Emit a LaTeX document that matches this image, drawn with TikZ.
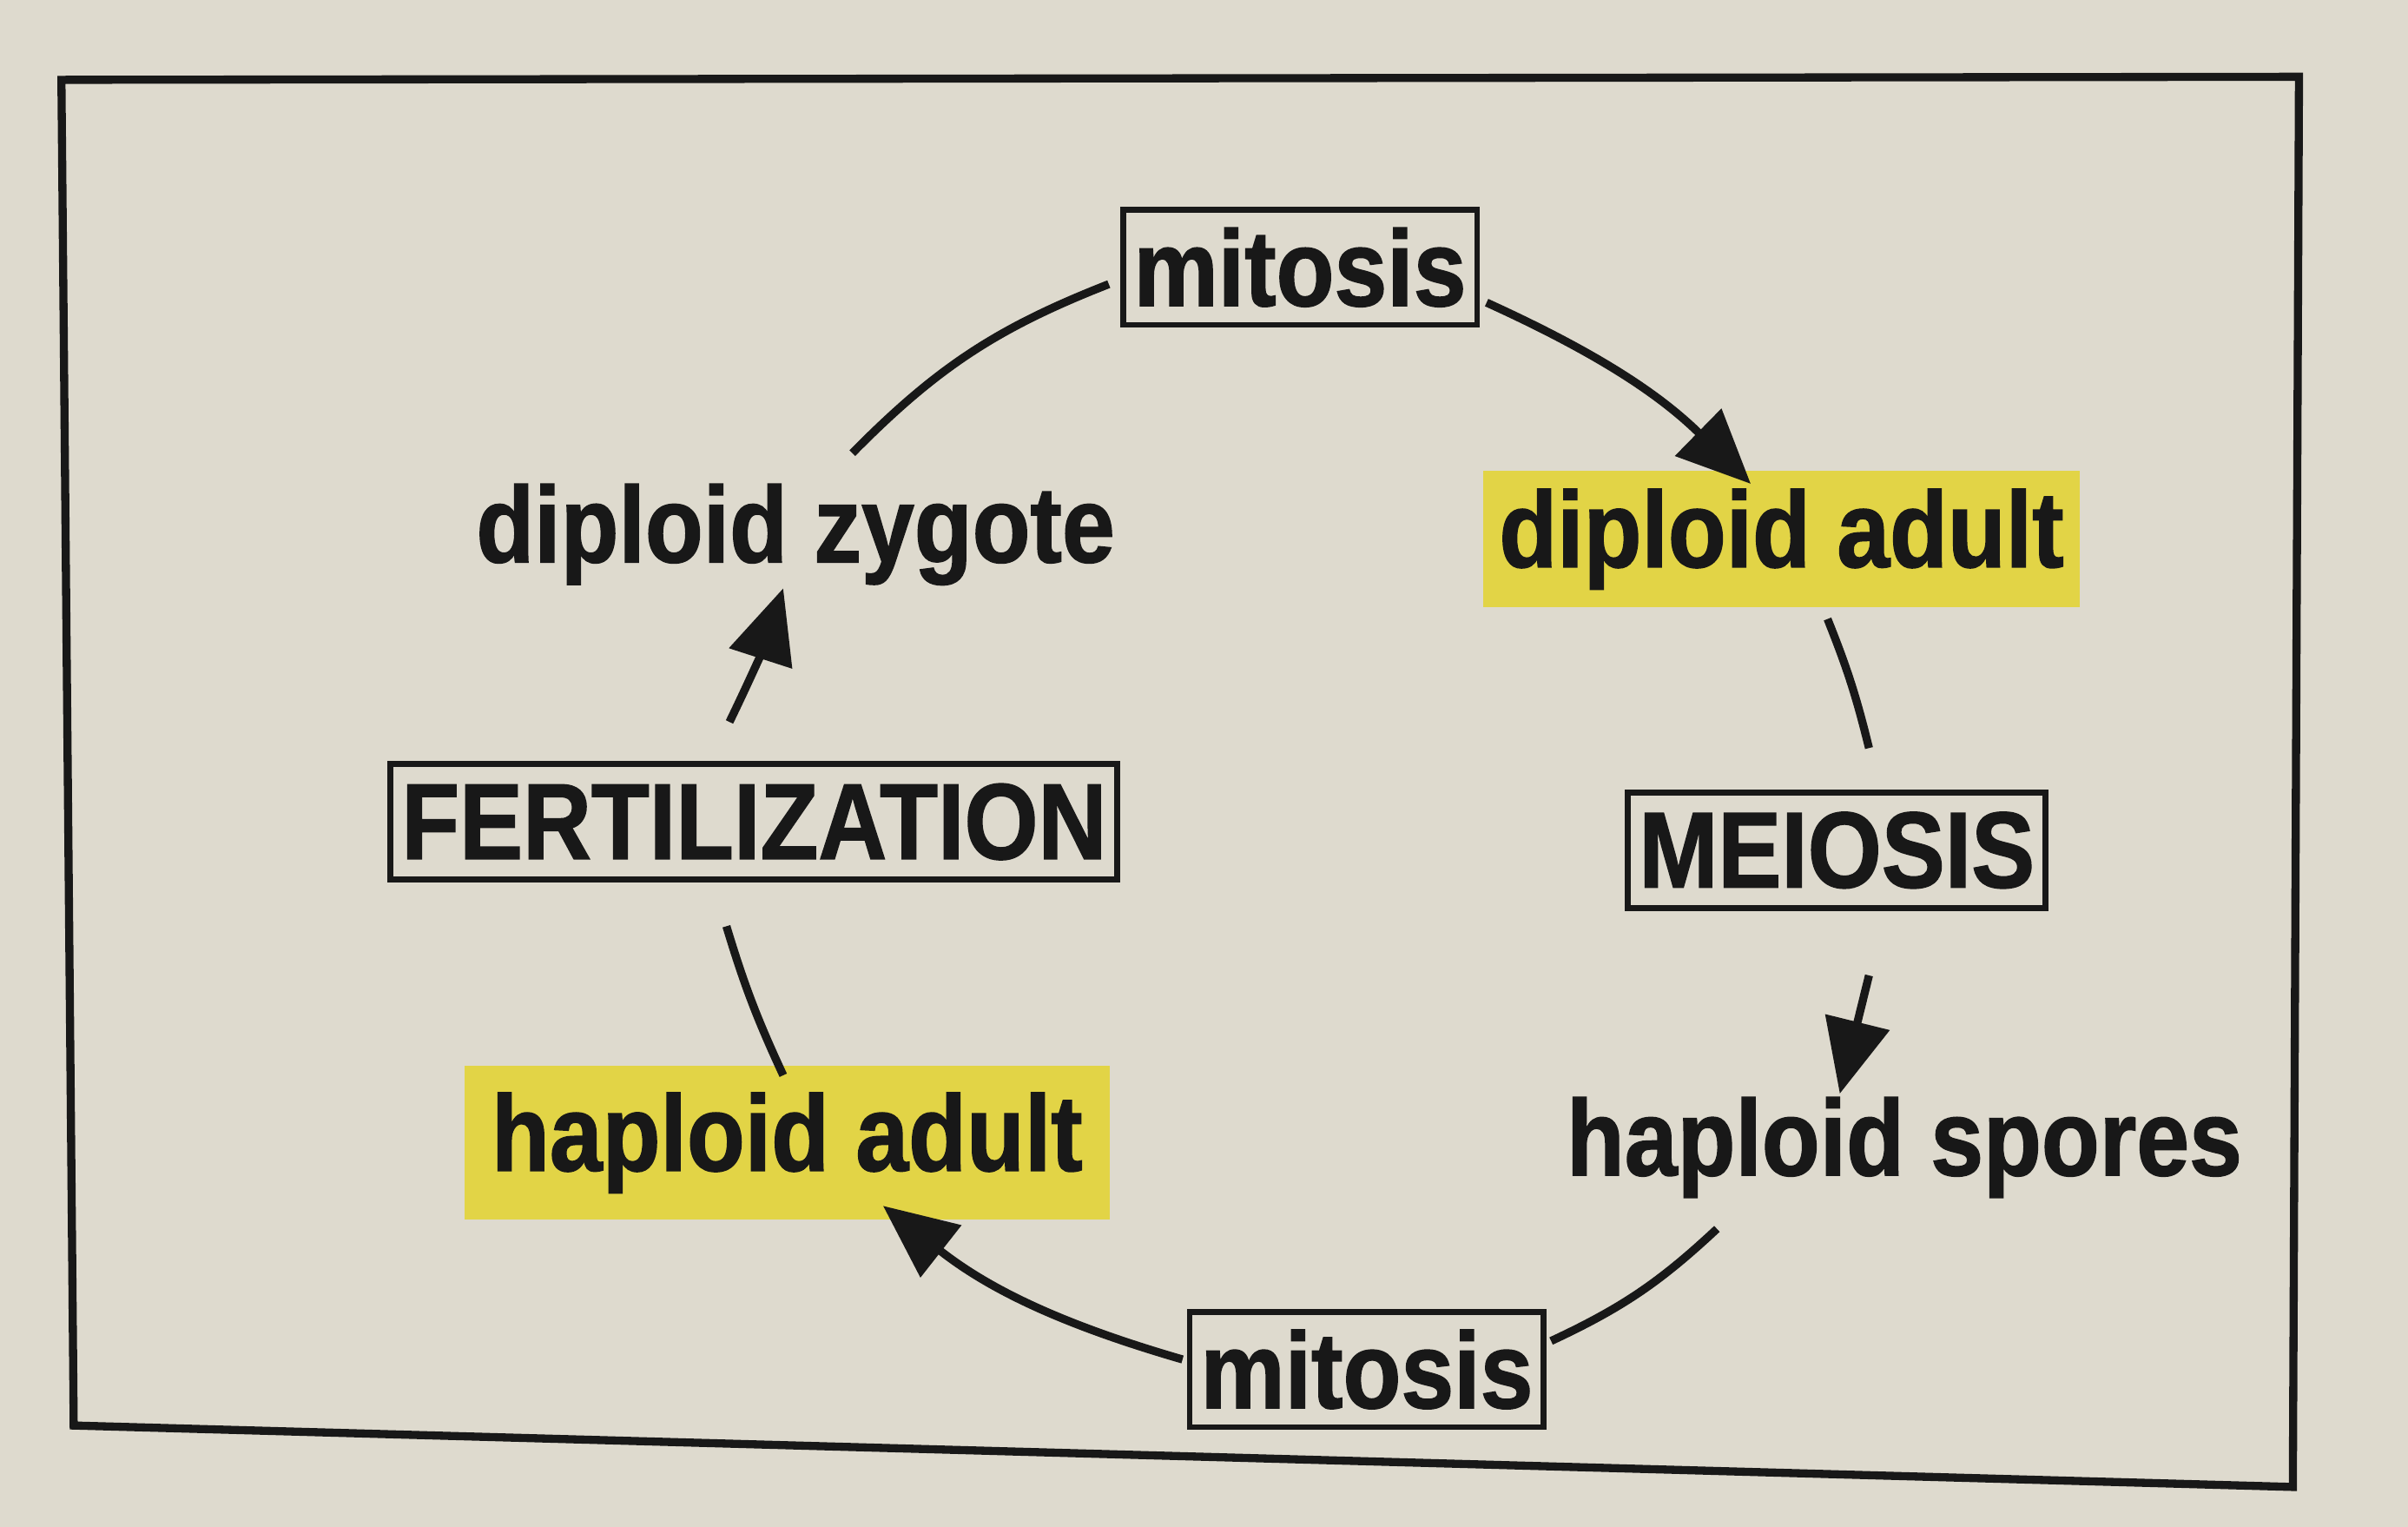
\documentclass[tikz,border=0pt]{standalone}
\usepackage{fontspec}
\setmainfont[FakeStretch=0.88,BoldFeatures={FakeBold=1.2}]{Liberation Sans}
\usepackage{tikz}
\usetikzlibrary{arrows.meta}
\definecolor{paper}{RGB}{222,218,206}
\definecolor{ink}{RGB}{24,24,24}
\definecolor{marker}{RGB}{226,212,70}
\newcommand{\stagefont}{\fontsize{20}{24}\selectfont\bfseries}
\tikzset{
  stagebox/.style={rectangle,draw=ink,line width=1.1pt,inner xsep=2pt,minimum height=0.75cm,text=ink,font=\stagefont},
  marked/.style={rectangle,fill=marker,inner xsep=3pt,minimum height=0.83cm,text=ink,font=\stagefont},
  stage/.style={text=ink,font=\stagefont},
  cyclearrow/.style={-{Triangle[length=4.8mm,width=4.2mm]},draw=ink,line width=1.5pt},
  cycleline/.style={draw=ink,line width=1.5pt}
}

\begin{document}
\begin{tikzpicture}
  \fill[paper] (0,0) rectangle (15.68,9.94);
  \useasboundingbox (0,0) rectangle (15.68,9.94);
  % outer frame
  \draw[ink,line width=1.5pt] (0.40,9.42) -- (14.97,9.44) -- (14.93,0.26) -- (0.48,0.66) -- cycle;

  \node[stagebox] (mtop) at (8.465,8.20) {mitosis};
  \node[marked] (dadult) at (11.60,6.43) {diploid adult};
  \node[stagebox] (meio) at (11.96,4.405) {MEIOSIS};
  \node[stage] (hspore) at (12.40,2.47) {haploid spores};
  \node[stagebox] (mbot) at (8.90,1.025) {mitosis};
  \node[marked,minimum height=1cm,inner xsep=5pt] (hadult) at (5.125,2.50) {haploid adult};
  \node[stagebox] (fert) at (4.91,4.59) {FERTILIZATION};
  \node[stage] (dzyg) at (5.18,6.46) {diploid zygote};

  % the cycle, clockwise
  \draw[cyclearrow] ([shift={(1.215,-0.23)}]mtop.center) to[bend left=10] ([shift={(-0.20,0.36)}]dadult.center);
  \draw[cycleline] ([shift={(0.30,-0.52)}]dadult.center) to[bend left=4] ([shift={(0.21,0.665)}]meio.center);
  \draw[cyclearrow] ([shift={(0.21,-0.815)}]meio.center) -- ([shift={(-0.42,0.35)}]hspore.center);
  \draw[cycleline] ([shift={(-1.22,-0.53)}]hspore.center) to[bend left=9] ([shift={(1.20,0.185)}]mbot.center);
  \draw[cyclearrow] ([shift={(-1.20,0.065)}]mbot.center) to[bend left=11] ([shift={(0.625,-0.41)}]hadult.center);
  \draw[cycleline] ([shift={(-0.025,0.44)}]hadult.center) to[bend left=4] ([shift={(-0.18,-0.68)}]fert.center);
  \draw[cyclearrow] ([shift={(-0.16,0.65)}]fert.center) to[bend right=4] ([shift={(-0.08,-0.35)}]dzyg.center);
  \draw[cycleline] ([shift={(0.37,0.53)}]dzyg.center) to[bend left=12] ([shift={(-1.245,-0.11)}]mtop.center);
\end{tikzpicture}
\end{document}
